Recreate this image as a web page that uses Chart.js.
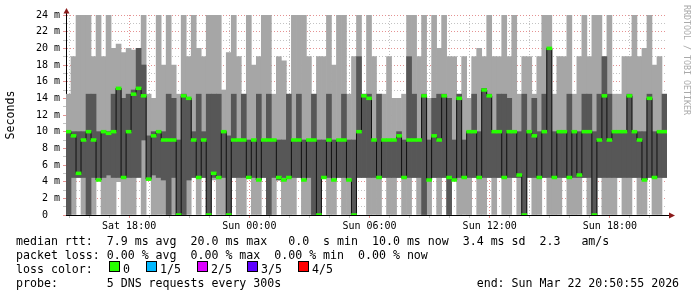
<!DOCTYPE html>
<html>
<head>
<meta charset="utf-8">
<script src="https://cdn.jsdelivr.net/npm/chart.js@4.4.1/dist/chart.umd.min.js"></script>
<style>
  html, body { margin: 0; padding: 0; background: #fff; }
  #wrap { position: relative; width: 697px; height: 297px; overflow: hidden; }
  #chart { position: absolute; left: 0; top: 0; }
  .txt { position: absolute; left: 16px; font-family: 'DejaVu Sans Mono', monospace; font-size: 11.6px; line-height: 14px; white-space: pre; color: #000; }
  .box { position: absolute; width: 9px; height: 9px; border: 1px solid #000; }
  .lbl { position: absolute; font-family: 'DejaVu Sans Mono', monospace; font-size: 11.6px; line-height: 14px; white-space: pre; }
  #credit { position: absolute; left: 682px; top: 5px; writing-mode: vertical-rl; font-family: 'DejaVu Sans Mono', monospace; font-size: 8.3px; color: #aaa; white-space: pre; }
</style>
</head>
<body>
<div id="wrap">
  <canvas id="chart" width="697" height="297"></canvas>
  <div id="credit">RRDTOOL / TOBI OETIKER</div>
  <div class="txt" style="top:234px">median rtt:  7.9 ms avg  20.0 ms max   0.0  s min  10.0 ms now  3.4 ms sd  2.3   am/s</div>
  <div class="txt" style="top:248px">packet loss: 0.00 % avg  0.00 % max  0.00 % min  0.00 % now</div>
  <div class="txt" style="top:262px">loss color:</div>
  <div class="txt" style="top:276px">probe:       5 DNS requests every 300s                            end: Sun Mar 22 20:50:55 2026</div>
  <div id="lossLegend"></div>
</div>
<script>
// 15 minute slots, Sat 14:51 -> Sun 20:51 (hours counted from Sat 00:00)
const startHour = 14.85;
const slotHours = 0.25;

// outer smoke (min .. max ping), ms
const smokeLo = [
  0, 0, 4.5, 0, 0, 0, 4.2, 0, 0, 0, 4, 0, 0, 0, 4.5, 0, 4.2, 0, 0, 0, 0, 0, 0, 0, 0, 4.5, 0, 4.5, 0, 4.2,
  0, 0, 0, 4.5, 0, 0, 4.5, 0, 0, 4.5, 0, 0, 4.2, 0, 0, 0, 4.5, 0, 0, 0, 0, 4.5, 0, 0, 4.5, 0, 0, 0, 4.5, 4.5,
  0, 0, 0, 4.5, 0, 0, 4.5, 0, 0, 4.5, 0, 0, 0, 4.5, 0, 4.5, 0, 4.2, 0, 0, 0, 4.5, 0, 0, 4.5, 0, 4.5, 0, 0, 4.5,
  0, 0, 4.5, 0, 0, 4.5, 0, 0, 0, 4.5, 0, 0, 0, 4.5, 0, 0, 4.5, 0, 0, 0, 4.5, 0, 0, 4.5, 0, 0, 4.5, 0, 0, 4.5
];
const smokeHi = [
  14.5, 19, 24, 24, 24, 19, 24, 19, 24, 20, 20.5, 19.5, 20, 19.8, 20, 24, 14.5, 14, 24, 18, 24, 18, 14.5, 24, 19, 24, 20, 19, 24, 24,
  24, 15, 19.5, 24, 19, 14.5, 24, 18, 19, 24, 24, 14.5, 19, 18.5, 14.5, 24, 24, 24, 19, 14.5, 19, 19, 24, 18, 24, 24, 14.5, 19, 24, 14.5,
  24, 19, 14.5, 14.5, 19, 14, 14, 14.5, 24, 24, 19, 24, 14, 24, 20, 24, 19, 19, 14.5, 19, 14, 19, 20, 19, 24, 19, 19, 24, 19, 24,
  14.5, 19, 19, 14.5, 19, 24, 24, 14.5, 19, 19, 24, 14.5, 19, 24, 19, 24, 24, 19, 24, 14.5, 14.5, 19, 19, 24, 19, 20, 24, 18, 19, 14.5
];
// inner smoke (2nd .. 4th ping), ms
const coreLo = [
  0, 4.5, 4.5, 4.5, 0, 4.5, 4.5, 4.5, 4.8, 4.5, 4.5, 4.5, 4.5, 4.5, 4.5, 9, 4.5, 4.8, 4.5, 4.2, 0, 4.5, 0, 0, 4.2, 4.5, 4.5, 4.5, 0, 4.5,
  4.5, 4.5, 0, 4.5, 4.5, 4.5, 4.5, 4.5, 4.5, 4.5, 0, 4.5, 4.2, 4.5, 4.5, 4.5, 4.5, 4.5, 4.5, 0, 0, 4.5, 4.5, 4.5, 4.5, 4.5, 4.5, 0, 4.5, 4.5,
  4.5, 4.5, 4.5, 4.5, 4.5, 4.5, 4.5, 4.5, 4.5, 4.5, 4.5, 0, 4.2, 4.5, 4.5, 4.5, 0, 4.2, 4.5, 4.5, 4.5, 4.5, 4.5, 4.5, 4.5, 4.5, 4.5, 4.5, 4.5, 4.5,
  4.5, 0, 4.5, 4.5, 4.5, 4.5, 4.5, 4.5, 4.5, 4.5, 4.5, 4.5, 4.5, 4.5, 4.5, 0, 4.5, 4.5, 4.5, 4.5, 4.5, 4.5, 4.5, 4.5, 4.5, 4.2, 4.5, 4.5, 4.5, 4.5
];
const coreHi = [
  10, 10, 10, 10, 14.5, 14.5, 10, 10, 10, 14.5, 15.2, 14, 14.5, 15, 20, 18, 9.5, 10, 10, 10, 14.5, 14, 9, 14.5, 14, 10, 14.5, 10, 14.5, 14.5,
  14.5, 10, 9.5, 14.5, 9, 14.5, 9, 9, 14.5, 9, 14.5, 9, 9, 9, 14.5, 9, 14.5, 9, 9, 14.5, 9, 9, 14.5, 9, 9, 14.5, 9, 9, 19, 14.5,
  14.5, 9, 14.5, 9, 9, 9, 10, 9, 19, 14.5, 9, 14.5, 9, 14, 14.5, 14.5, 14, 9, 14.5, 9, 10, 14.5, 10, 15.2, 14.5, 10, 14.5, 14.5, 14, 10,
  10, 14.5, 10, 14, 10, 14.5, 20, 10, 10, 10, 14.5, 10, 10, 14.5, 14.5, 10, 14.5, 19, 14.5, 10, 10, 10, 14.5, 10, 10, 10, 14.5, 10, 10, 14.5
];
// median rtt, ms
const median = [
  10, 9.5, 5, 9, 10, 9, 4.2, 10, 9.8, 10, 15.2, 4.5, 10, 14.5, 15.2, 14.3, 4.3, 9.5, 10, 9, 9, 9, 0, 14.3, 14, 9, 4.5, 9, 0, 5,
  4.5, 10, 0, 9, 9, 9, 4.5, 9, 4.2, 9, 9, 9, 4.5, 4.2, 4.5, 9, 9, 4.2, 9, 9, 0, 4.5, 9, 4.2, 9, 9, 4.2, 0, 10, 14.3,
  14, 9, 4.5, 9, 9, 9, 9.5, 4.5, 9, 9, 9, 14.3, 4.2, 9.5, 9, 14.3, 4.5, 4.2, 14, 4.5, 10, 10, 4.5, 15, 14.3, 10, 10, 4.5, 10, 10,
  4.8, 0, 10, 9.5, 4.5, 10, 20, 4.5, 10, 10, 4.5, 10, 4.8, 10, 10, 0, 9, 14.3, 9, 10, 10, 10, 14.3, 10, 9, 4.2, 14, 4.5, 10, 10
];

const hourTicks = [15, 16, 17, 18, 19, 20, 21, 22, 23, 24, 25, 26, 27, 28, 29, 30, 31, 32, 33, 34, 35, 36, 37, 38, 39, 40, 41, 42, 43, 44];
const timeTicks = [18, 24, 30, 36, 42];
const timeLabels = ['Sat 18:00', 'Sun 00:00', 'Sun 06:00', 'Sun 12:00', 'Sun 18:00'];
const msTicks = [0, 1, 2, 3, 4, 5, 6, 7, 8, 9, 10, 11, 12, 13, 14, 15, 16, 17, 18, 19, 20, 21, 22, 23, 24];
const msMajor = [0, 2, 4, 6, 8, 10, 12, 14, 16, 18, 20, 22, 24];
const msLabels = ['0  ', '2 m', '4 m', '6 m', '8 m', '10 m', '12 m', '14 m', '16 m', '18 m', '20 m', '22 m', '24 m'];

const lossLabels = ['0', '1/5', '2/5', '3/5', '4/5'];
const lossColors = ['#26ff00', '#00b8ff', '#dd00ff', '#5e00ff', '#ff0000'];

const endHour = startHour + median.length * slotHours;
const slots = median.map((_, i) => startHour + (i + 0.5) * slotHours);

// loss colour legend boxes
const boxX = [109, 146, 197, 247, 298];
const lossLegend = document.getElementById('lossLegend');
lossLabels.forEach((l, i) => {
  let b = document.createElement('div');
  b.className = 'box';
  b.style.left = boxX[i] + 'px';
  b.style.top = '261px';
  b.style.background = lossColors[i];
  lossLegend.appendChild(b);
  let t = document.createElement('div');
  t.className = 'lbl';
  t.style.left = (boxX[i] + 14) + 'px';
  t.style.top = '262px';
  t.textContent = l;
  lossLegend.appendChild(t);
});

const majorGrid = 'rgba(220,110,110,0.75)';
const minorGrid = 'rgba(170,170,170,0.7)';
const mono = 'DejaVu Sans Mono';

// axis extensions with the little red arrows
const arrows = {
  id: 'arrows',
  afterDraw(chart) {
    const {ctx, chartArea: a} = chart;
    ctx.save();
    ctx.strokeStyle = '#000';
    ctx.lineWidth = 1;
    ctx.beginPath();
    ctx.moveTo(a.left + 0.5, a.top);
    ctx.lineTo(a.left + 0.5, a.top - 5);
    ctx.moveTo(a.right, a.bottom + 0.5);
    ctx.lineTo(a.right + 3, a.bottom + 0.5);
    ctx.stroke();
    ctx.fillStyle = '#8b1a1a';
    ctx.beginPath();
    ctx.moveTo(a.left + 0.5, a.top - 7);
    ctx.lineTo(a.left - 2.5, a.top - 1.5);
    ctx.lineTo(a.left + 3.5, a.top - 1.5);
    ctx.closePath();
    ctx.fill();
    ctx.beginPath();
    ctx.moveTo(a.right + 8, a.bottom + 0.5);
    ctx.lineTo(a.right + 2, a.bottom - 2.5);
    ctx.lineTo(a.right + 2, a.bottom + 3.5);
    ctx.closePath();
    ctx.fill();
    ctx.restore();
  }
};

const ctx = document.getElementById('chart').getContext('2d');
const chart = new Chart(ctx, {
  type: 'bar',
  data: {
    datasets: [
      {
        label: 'smoke',
        data: slots.map((x, i) => ({x: x, y: [smokeLo[i], smokeHi[i]]})),
        backgroundColor: '#a6a6a6',
        grouped: false,
        order: 4,
      },
      {
        label: 'core',
        data: slots.map((x, i) => ({x: x, y: [coreLo[i], coreHi[i]]})),
        backgroundColor: '#575757',
        grouped: false,
        order: 3,
      },
      {
        type: 'line',
        label: 'median',
        data: slots.map((x, i) => ({x: x, y: median[i]})),
        borderColor: '#111',
        borderWidth: 1,
        stepped: 'middle',
        pointRadius: 0,
        order: 2,
      },
      {
        label: 'loss 0',
        data: slots.map((x, i) => ({x: x, y: [median[i] - 0.17, median[i] + 0.17]})),
        backgroundColor: lossColors[0],
        grouped: false,
        order: 1,
      },
    ],
  },
  options: {
    responsive: false,
    animation: false,
    barPercentage: 1,
    categoryPercentage: 1,
    layout: {padding: {top: 15, right: 30, left: 0, bottom: 0}},
    plugins: {
      legend: {display: false},
      tooltip: {enabled: false},
    },
    scales: {
      x: {
        type: 'linear',
        min: startHour,
        max: endHour,
        offset: false,
        z: 1,
        afterBuildTicks: s => { s.ticks = hourTicks.map(v => ({value: v})); },
        afterFit: s => { s.height = 82; },
        grid: {
          offset: false,
          color: c => timeTicks.includes(c.tick.value) ? majorGrid : minorGrid,
          tickLength: 3,
        },
        border: {color: '#000', dash: [1, 2]},
        ticks: {
          autoSkip: false,
          maxRotation: 0,
          padding: 2,
          color: '#000',
          font: {family: mono, size: 10},
          callback: v => {
            let k = timeTicks.indexOf(v);
            return k >= 0 ? timeLabels[k] : '';
          },
        },
      },
      y: {
        min: 0,
        max: 24,
        z: 1,
        afterBuildTicks: s => { s.ticks = msTicks.map(v => ({value: v})); },
        afterFit: s => { s.width = 66; },
        grid: {
          color: c => msMajor.includes(c.tick.value) ? majorGrid : minorGrid,
          tickLength: 3,
        },
        border: {color: '#000', dash: [1, 2]},
        ticks: {
          autoSkip: false,
          padding: 3,
          color: '#000',
          font: {family: mono, size: 10},
          callback: v => {
            let k = msMajor.indexOf(v);
            return k >= 0 ? msLabels[k] : '';
          },
        },
        title: {
          display: true,
          text: 'Seconds',
          color: '#000',
          font: {family: mono, size: 11.6},
          padding: {top: 4, bottom: 0},
        },
      },
    },
  },
  plugins: [arrows],
});
</script>
</body>
</html>
